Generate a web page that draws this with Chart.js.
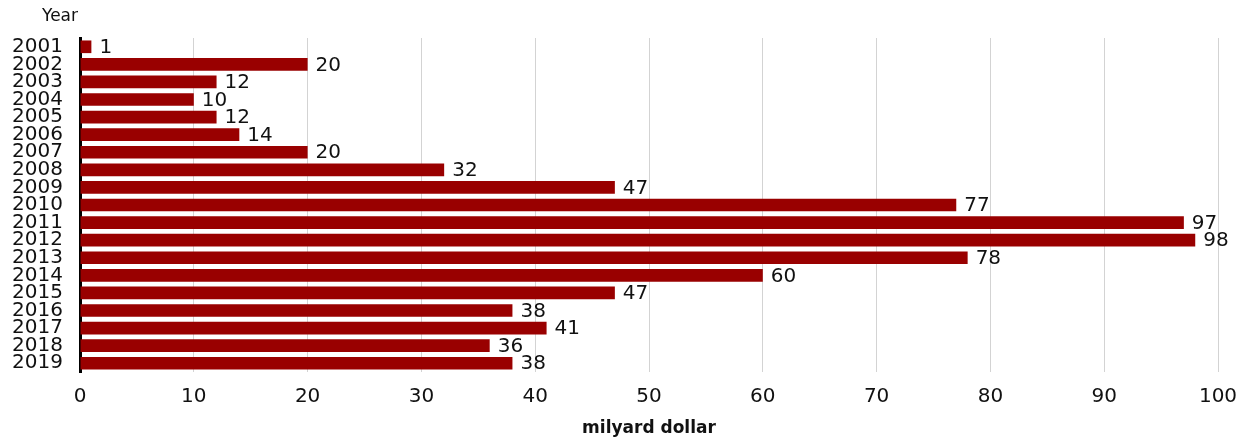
<!DOCTYPE html>
<html>
<head>
<meta charset="utf-8">
<script src="https://cdn.jsdelivr.net/npm/chart.js@4"></script>
<style>
  body { margin: 0; background: #fff; }
</style>
</head>
<body>
<canvas id="bar-chart" width="1251" height="439"></canvas>
<script>
const years = ['2001', '2002', '2003', '2004', '2005', '2006', '2007', '2008', '2009', '2010',
               '2011', '2012', '2013', '2014', '2015', '2016', '2017', '2018', '2019'];
const amounts = [1, 20, 12, 10, 12, 14, 20, 32, 47, 77, 97, 98, 78, 60, 47, 38, 41, 36, 38];
const xTicks = [0, 10, 20, 30, 40, 50, 60, 70, 80, 90, 100];

const barCtx = document.getElementById('bar-chart');
const fontName = '"DejaVu Sans", Arial, sans-serif';

// value labels at the end of bars + "Year" label above the axis
const labelsPlugin = {
    id: 'labels',
    afterDatasetsDraw(chart) {
        const ctx = chart.ctx;
        ctx.save();
        ctx.font = '20px ' + fontName;
        ctx.fillStyle = '#111';
        ctx.textBaseline = 'middle';
        ctx.textAlign = 'left';
        chart.getDatasetMeta(0).data.forEach((bar, i) => {
            ctx.fillText(amounts[i], bar.x + 8, bar.y + 1);
        });
        ctx.font = '17px ' + fontName;
        ctx.textAlign = 'center';
        ctx.fillText('Year', 60, 17);
        ctx.restore();
    }
};

new Chart(barCtx, {
    type: 'bar',
    data: {
        labels: years,
        datasets: [{
            data: amounts,
            backgroundColor: '#990000',
            barPercentage: 0.8,
            categoryPercentage: 0.9
        }]
    },
    options: {
        indexAxis: 'y',
        responsive: false,
        animation: false,
        devicePixelRatio: 1,
        layout: { padding: { top: 38, right: 33, left: 0, bottom: 0 } },
        scales: {
            x: {
                min: 0,
                max: 100,
                afterBuildTicks: scale => { scale.ticks = xTicks.map(v => ({ value: v })); },
                afterFit: scale => { scale.height = 67; },
                grid: { color: '#d3d3d3', lineWidth: 1, drawTicks: false },
                border: { display: false },
                ticks: { color: '#111', font: { family: fontName, size: 20 }, padding: 13 },
                title: {
                    display: true,
                    text: 'milyard dollar',
                    color: '#111',
                    font: { family: fontName, size: 17, weight: 'bold' },
                    padding: { top: 0, bottom: 0 }
                }
            },
            y: {
                afterFit: scale => { scale.width = 80; },
                grid: { display: false },
                border: { display: true, color: '#000', width: 3 },
                ticks: { color: '#111', font: { family: fontName, size: 20 }, padding: 9, autoSkip: false }
            }
        },
        plugins: {
            legend: { display: false },
            tooltip: { enabled: false }
        }
    },
    plugins: [labelsPlugin]
});
</script>
</body>
</html>
